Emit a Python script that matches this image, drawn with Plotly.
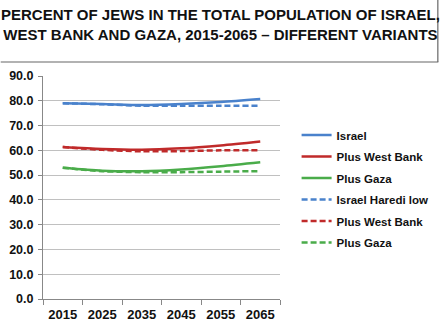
import plotly.graph_objects as go

years = ["2015", "2025", "2035", "2045", "2055", "2065"]
israel = [79.0, 78.7, 78.3, 78.7, 79.5, 80.7]
plus_wb = [61.3, 60.5, 60.2, 60.8, 62.0, 63.6]
plus_gaza = [53.0, 51.8, 51.6, 52.3, 53.6, 55.2]
haredi_israel = [79.0, 78.6, 78.0, 78.0, 78.0, 78.0]
haredi_wb = [61.3, 60.2, 59.6, 59.7, 60.0, 60.0]
haredi_gaza = [53.0, 51.6, 51.2, 51.2, 51.4, 51.6]

names = ["Israel", "Plus West Bank", "Plus Gaza", "Israel Haredi low", "Plus West Bank", "Plus Gaza"]
series = [israel, plus_wb, plus_gaza, haredi_israel, haredi_wb, haredi_gaza]
colors = ["#4a82cc", "#c02a2a", "#4aac4a", "#4a82cc", "#c02a2a", "#4aac4a"]
dashes = ["solid", "solid", "solid", "6px,3px", "6px,3px", "6px,3px"]

title_text = "<b>PERCENT OF JEWS IN THE TOTAL POPULATION OF ISRAEL,<br>WEST BANK AND GAZA, 2015-2065 – DIFFERENT VARIANTS</b>"

fig = go.Figure()
for i, (n, s, c, d) in enumerate(zip(names, series, colors, dashes)):
    fig.add_trace(go.Scatter(x=years, y=s, name=f"<b>{n}</b>", mode="lines",
                             line=dict(color=c, width=2.5, dash=d, shape="spline", smoothing=0.8),
                             legendgroup=f"g{i}"))

PL, PR, PT, PB = 43, 284, 76, 299
W, H = PR - PL, PB - PT

fig.update_layout(
    width=446, height=330,
    margin=dict(l=PL, r=446 - PR, t=PT, b=330 - PB),
    paper_bgcolor="white", plot_bgcolor="white",
    font=dict(family="Liberation Sans, Arial, sans-serif", color="black"),
    showlegend=True,
    legend=dict(x=1.07, xanchor="left", y=0.80, yanchor="top",
                font=dict(size=11.5, color="#111", family="Liberation Sans, Arial"),
                tracegroupgap=2.5, bgcolor="rgba(0,0,0,0)", itemwidth=30),
    xaxis=dict(type="category", range=[-0.5, 5.5], ticks="outside", tickson="boundaries",
               ticklen=5, tickcolor="#888", showline=True, linecolor="#888", linewidth=1,
               showgrid=False, tickfont=dict(size=13, family="Liberation Sans, Arial", color="#111"),
               tickprefix="<b>", ticksuffix="</b>", ticklabelstandoff=3, automargin=False),
    yaxis=dict(range=[0, 90], dtick=10, tickformat=".1f", ticks="outside", ticklen=4,
               tickcolor="#888", showline=True, linecolor="#888", linewidth=1,
               showgrid=True, gridcolor="#c0c0c0", gridwidth=1.2, zeroline=False,
               tickfont=dict(size=12.5, family="Liberation Sans, Arial", color="#111"),
               tickprefix="<b>", ticksuffix="</b>", ticklabelstandoff=2, automargin=False),
)

fig.add_annotation(text=title_text, xref="paper", yref="paper",
                   x=(224 - PL) / W, y=(PB - 4) / H, xanchor="center", yanchor="top",
                   showarrow=False, align="center",
                   font=dict(size=15, color="#111", family="Liberation Sans, Arial"))

yl = (PB - 62) / H
fig.add_shape(type="line", xref="paper", yref="paper", x0=-PL / W, x1=(445 - PL) / W,
              y0=yl, y1=yl, line=dict(color="#666", width=1.2))
fig.add_shape(type="line", xref="paper", yref="paper", x0=(444.5 - PL) / W, x1=(444.5 - PL) / W,
              y0=yl, y1=(PB + 5) / H, line=dict(color="#666", width=1.2))

fig.write_html("out.html")
